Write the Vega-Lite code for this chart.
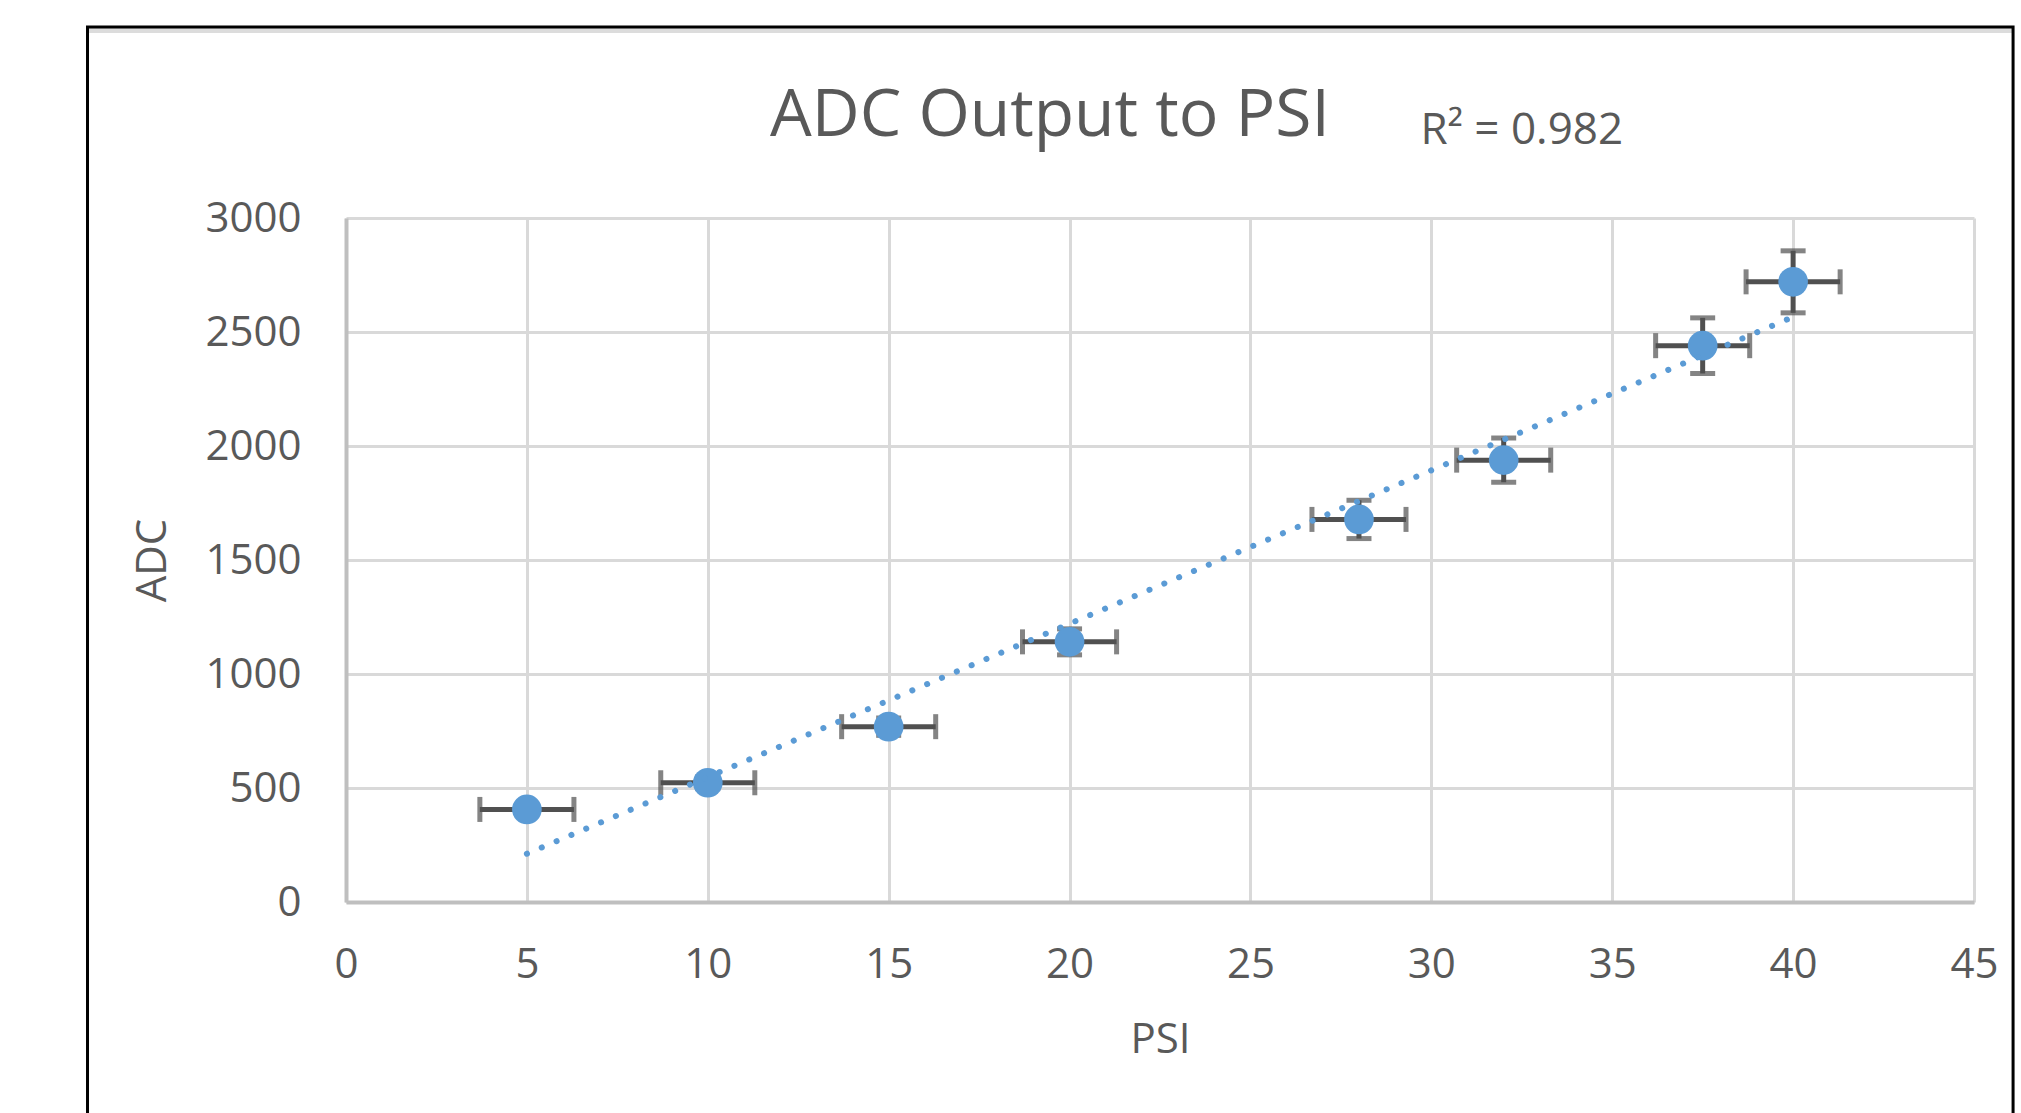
{
  "$schema": "https://vega.github.io/schema/vega-lite/v6.json",
  "autosize": {"type": "none"},
  "width": 1628,
  "height": 684,
  "padding": {"left": 346, "top": 218, "right": 47, "bottom": 211},
  "background": "white",
  "config": {
    "font": "Open Sans",
    "view": {"stroke": null},
    "axis": {
      "labelFont": "Open Sans",
      "labelFontSize": 42,
      "labelColor": "#595959",
      "labelFlush": false,
      "titleFont": "Open Sans",
      "titleFontSize": 42,
      "titleFontWeight": "normal",
      "titleColor": "#595959",
      "gridColor": "#d9d9d9",
      "gridWidth": 3,
      "gridOpacity": 1,
      "domainColor": "#bfbfbf",
      "domainWidth": 4,
      "ticks": false,
      "tickSize": 0
    }
  },
  "title": {
    "text": "ADC Output to PSI",
    "font": "Open Sans",
    "fontSize": 66,
    "fontWeight": "normal",
    "color": "#595959",
    "anchor": "middle",
    "frame": "group",
    "baseline": "alphabetic",
    "dx": -110,
    "offset": 0,
    "dy": 177
  },
  "datasets": {
    "points": [
      {"psi": 5, "adc": 406, "psi_err": 1.3, "adc_err": 20},
      {"psi": 10, "adc": 523, "psi_err": 1.3, "adc_err": 26},
      {"psi": 15, "adc": 769, "psi_err": 1.3, "adc_err": 38},
      {"psi": 20, "adc": 1141, "psi_err": 1.3, "adc_err": 57},
      {"psi": 28, "adc": 1678, "psi_err": 1.3, "adc_err": 84},
      {"psi": 32, "adc": 1938, "psi_err": 1.3, "adc_err": 97},
      {"psi": 37.5, "adc": 2440, "psi_err": 1.3, "adc_err": 122},
      {"psi": 40, "adc": 2720, "psi_err": 1.3, "adc_err": 136}
    ]
  },
  "layer": [
    {
      "data": {"values": [{}]},
      "mark": {"type": "rule", "color": "#dcdcdc", "strokeWidth": 5},
      "encoding": {
        "x": {"datum": -7.1, "type": "quantitative", "scale": {"domain": [0, 45]}, "title": "PSI"},
        "x2": {"datum": 46.08},
        "y": {"datum": 3822, "type": "quantitative", "scale": {"domain": [0, 3000]}, "title": "ADC"}
      }
    },
    {
      "data": {"values": [{}]},
      "mark": {"type": "rect", "fillOpacity": 0, "stroke": "#000000", "strokeWidth": 3},
      "encoding": {
        "x": {"datum": -7.145, "type": "quantitative", "title": "PSI"},
        "x2": {"datum": 46.08},
        "y": {"datum": 3838, "type": "quantitative", "title": "ADC"},
        "y2": {"datum": -1200}
      }
    },
    {
      "data": {"name": "points"},
      "mark": {"type": "errorbar", "color": "#505050", "thickness": 5, "rule": {"strokeWidth": 5}, "ticks": {"size": 25, "thickness": 5, "color": "#505050"}},
      "encoding": {
        "x": {"field": "psi", "type": "quantitative",
              "scale": {"domain": [0, 45], "nice": false}, "title": "PSI",
              "axis": {"values": [0, 5, 10, 15, 20, 25, 30, 35, 40, 45], "labelPadding": 42, "titlePadding": 34, "grid": true, "format": "d"}},
        "xError": {"field": "psi_err"},
        "y": {"field": "adc", "type": "quantitative",
              "scale": {"domain": [0, 3000], "nice": false}, "title": "ADC",
              "axis": {"values": [0, 500, 1000, 1500, 2000, 2500, 3000], "labelPadding": 45, "titlePadding": 30, "grid": true, "format": "d"}}
      }
    },
    {
      "data": {"name": "points"},
      "mark": {"type": "errorbar", "color": "#505050", "thickness": 5, "rule": {"strokeWidth": 5}, "ticks": {"size": 25, "thickness": 5, "color": "#505050"}},
      "encoding": {
        "x": {"field": "psi", "type": "quantitative", "title": "PSI"},
        "y": {"field": "adc", "type": "quantitative", "title": "ADC"},
        "yError": {"field": "adc_err"}
      }
    },
    {
      "data": {"name": "points"},
      "mark": {"type": "point", "filled": true, "shape": "circle", "size": 880, "color": "#5b9bd5", "opacity": 1},
      "encoding": {
        "x": {"field": "psi", "type": "quantitative", "title": "PSI"},
        "y": {"field": "adc", "type": "quantitative", "title": "ADC"}
      }
    },
    {
      "data": {"name": "points"},
      "transform": [{"regression": "adc", "on": "psi"}],
      "mark": {"type": "line", "color": "#5b9bd5", "strokeWidth": 6, "strokeDash": [0.1, 16], "strokeCap": "round"},
      "encoding": {
        "x": {"field": "psi", "type": "quantitative", "title": "PSI"},
        "y": {"field": "adc", "type": "quantitative", "title": "ADC"}
      }
    },
    {
      "data": {"values": [{"label": "R² = 0.982"}]},
      "mark": {"type": "text", "align": "left", "baseline": "alphabetic", "fontSize": 44, "color": "#595959", "font": "Open Sans"},
      "encoding": {
        "x": {"datum": 29.7, "type": "quantitative", "title": "PSI"},
        "y": {"datum": 3325, "type": "quantitative", "title": "ADC"},
        "text": {"field": "label"}
      }
    }
  ]
}
